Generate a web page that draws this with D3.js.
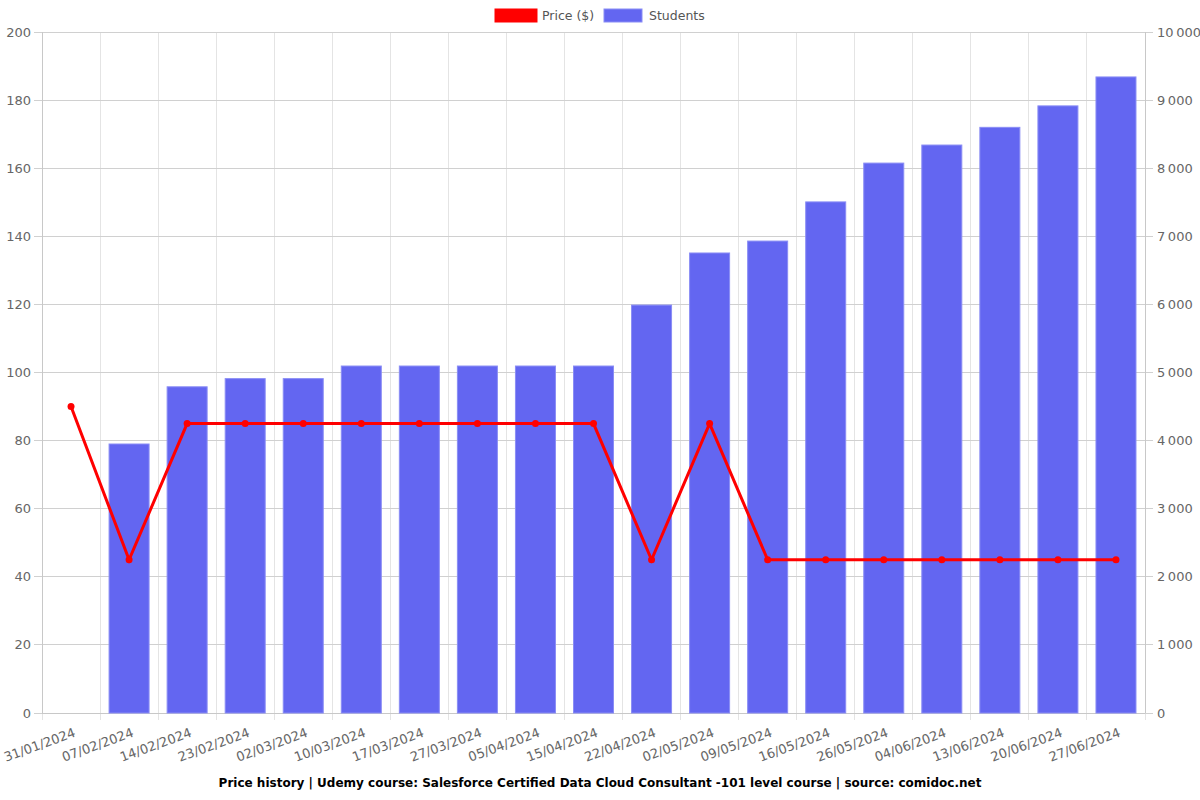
<!DOCTYPE html>
<html><head><meta charset="utf-8">
<script src="https://cdn.jsdelivr.net/npm/d3@7"></script>
<style>body{margin:0;background:#fff}svg{display:block}text{font-family:"DejaVu Sans",sans-serif}</style>
</head><body><svg id="c" width="1200" height="800"></svg>
<script>
const dates = ["31/01/2024","07/02/2024","14/02/2024","23/02/2024","02/03/2024","10/03/2024","17/03/2024","27/03/2024","05/04/2024","15/04/2024","22/04/2024","02/05/2024","09/05/2024","16/05/2024","26/05/2024","04/06/2024","13/06/2024","20/06/2024","27/06/2024"];
const price = [90,45,85,85,85,85,85,85,85,85,45,85,45,45,45,45,45,45,45];
const students = [null,3950,4790,4910,4910,5095,5095,5095,5095,5095,5990,6755,6930,7505,8075,8340,8600,8915,9340];
const leftTicks = [0,20,40,60,80,100,120,140,160,180,200];
const rightTicks = [0,1000,2000,3000,4000,5000,6000,7000,8000,9000,10000];
const rightLabels = ["0","1\u202f000","2\u202f000","3\u202f000","4\u202f000","5\u202f000","6\u202f000","7\u202f000","8\u202f000","9\u202f000","10\u202f000"];
const title = "Price history | Udemy course: Salesforce Certified Data Cloud Consultant -101 level course | source: comidoc.net";

const svg = d3.select("#c");
const L=42, R=1145, T=32, B=713;
const x = d3.scaleBand().domain(dates).range([L,R]);
const yL = d3.scaleLinear().domain([0,200]).range([B,T]);
const yR = d3.scaleLinear().domain([0,10000]).range([B,T]);

// vertical grid
const bounds = dates.map(d=>x(d)).concat([R]);
svg.append("g").selectAll("line").data(bounds).join("line")
  .attr("x1",d=>d).attr("x2",d=>d).attr("y1",T).attr("y2",B+7)
  .attr("stroke","#e4e4e4").attr("shape-rendering","crispEdges");
// horizontal grid
svg.append("g").selectAll("line").data(leftTicks).join("line")
  .attr("x1",L-8).attr("x2",R+8).attr("y1",d=>yL(d)).attr("y2",d=>yL(d))
  .attr("stroke","#d0d0d0").attr("shape-rendering","crispEdges");
// axis lines
svg.append("line").attr("x1",L).attr("x2",L).attr("y1",T).attr("y2",B).attr("stroke","#c8c8c8").attr("shape-rendering","crispEdges");
svg.append("line").attr("x1",R).attr("x2",R).attr("y1",T).attr("y2",B).attr("stroke","#c8c8c8").attr("shape-rendering","crispEdges");
svg.append("line").attr("x1",L).attr("x2",R).attr("y1",B).attr("y2",B).attr("stroke","#c8c8c8").attr("shape-rendering","crispEdges");

// bars
const bw = 40;
svg.append("g").selectAll("rect").data(dates.map((d,i)=>({d,v:students[i]})).filter(o=>o.v!=null)).join("rect")
  .attr("x",o=>x(o.d)+x.bandwidth()/2-bw/2).attr("width",bw)
  .attr("y",o=>yR(o.v)).attr("height",o=>B-yR(o.v))
  .attr("fill","#6366f1").attr("stroke","#8a8df5").attr("stroke-width",1);

// line
const cx = d=>x(d)+x.bandwidth()/2;
svg.append("path").datum(price).attr("fill","none").attr("stroke","#ff0000").attr("stroke-width",3)
  .attr("d",d3.line().x((v,i)=>cx(dates[i])).y(v=>yL(v)));
svg.append("g").selectAll("circle").data(price).join("circle")
  .attr("cx",(v,i)=>cx(dates[i])).attr("cy",v=>yL(v)).attr("r",3.5).attr("fill","#ff0000");

// left labels
svg.append("g").selectAll("text").data(leftTicks).join("text")
  .attr("x",31).attr("y",d=>yL(d)).attr("dy","0.35em").attr("text-anchor","end")
  .attr("font-size",13).attr("fill","#666").text(d=>d);
// right labels
svg.append("g").selectAll("text").data(rightTicks).join("text")
  .attr("x",1157).attr("y",d=>yR(d)).attr("dy","0.35em").attr("text-anchor","start")
  .attr("font-size",13).attr("fill","#666").text((d,i)=>rightLabels[i]);
// x labels
svg.append("g").selectAll("text").data(dates).join("text")
  .attr("transform",d=>`translate(${cx(d)+2},${727}) rotate(-20)`)
  .attr("dy","0.75em").attr("text-anchor","end")
  .attr("font-size",13).attr("fill","#666").text(d=>d);

// legend
svg.append("rect").attr("x",495).attr("y",9).attr("width",42).attr("height",13).attr("fill","#ff0000").attr("stroke","#ff0000");
svg.append("text").attr("x",542).attr("y",16).attr("dy","0.35em").attr("font-size",12.5).attr("fill","#555").text("Price ($)");
svg.append("rect").attr("x",604).attr("y",9).attr("width",38).attr("height",13).attr("fill","#6366f1").attr("stroke","#8a8df5");
svg.append("text").attr("x",649).attr("y",16).attr("dy","0.35em").attr("font-size",12.5).attr("fill","#555").text("Students");

// title
svg.append("text").attr("x",600).attr("y",783).attr("dy","0.35em").attr("text-anchor","middle")
  .attr("font-size",12).attr("font-weight","bold").attr("fill","#000").text(title);
</script></body></html>
